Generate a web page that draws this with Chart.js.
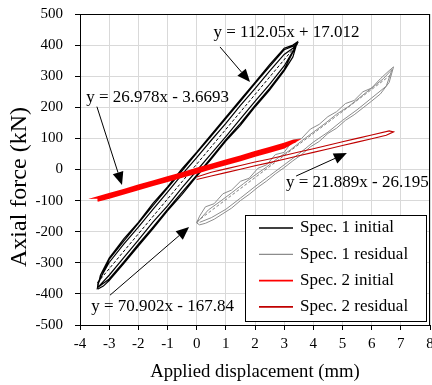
<!DOCTYPE html>
<html>
<head>
<meta charset="utf-8">
<script src="https://cdn.jsdelivr.net/npm/chart.js@4.4.0/dist/chart.umd.min.js"></script>
<style>
html, body { margin: 0; padding: 0; background: #fff; }
</style>
</head>
<body>
<canvas id="chart" width="432" height="385"></canvas>
<script>
// series names as in the legend
const seriesNames = ["Spec. 1 initial", "Spec. 1 residual", "Spec. 2 initial", "Spec. 2 residual"];
const seriesColors = ["#000000", "#8c8c8c", "#ff0000", "#c00000"];

// Spec. 1 initial: three cycles, up the lower branch then back down the upper one
const spec1InitialX = [
	-3.4, -3.2, -3, -2.5, -2, -1.5, -1, -0.5, 0, 0.5, 1, 1.5, 2, 2.5, 3, 3.3, 3.45,
	3.3, 3, 2.5, 2, 1.5, 1, 0.5, 0, -0.5, -1, -1.5, -2, -2.5, -3, -3.3, -3.4,
	-3.38, -3, -2.5, -2, -1.5, -1, -0.5, 0, 0.5, 1, 1.5, 2, 2.5, 3, 3.42,
	3.3, 3, 2.5, 2, 1.5, 1, 0.5, 0, -0.5, -1, -1.5, -2, -2.5, -3, -3.38,
	-3.4, -3, -2.5, -2, -1.5, -1, -0.5, 0, 0.5, 1, 1.5, 2, 2.5, 3, 3.45,
	3.35, 3, 2.5, 2, 1.5, 1, 0.5, 0, -0.5, -1, -1.5, -2, -2.5, -3, -3.4
];
const spec1InitialY = [
	-385, -375, -357, -303, -246, -191, -133, -80, -22, 33, 91, 142, 201, 255, 317, 362, 410,
	400, 390, 337, 280, 225, 168, 112, 56, 3, -56, -109, -170, -223, -285, -340, -380,
	-378, -340, -283, -227, -169, -117, -58, -4, 51, 106, 163, 219, 274, 333, 400,
	390, 370, 316, 260, 206, 148, 94, 38, -16, -73, -128, -185, -240, -299, -362,
	-380, -352, -297, -240, -185, -128, -73, -18, 38, 96, 148, 206, 261, 322, 405,
	398, 385, 331, 276, 219, 164, 107, 53, -4, -60, -116, -173, -230, -289, -372
];

// Spec. 1 residual: two cycles
const spec1ResidualX = [
	0, 0.1, 0.3, 0.6, 0.9, 1.2, 1.5, 1.8, 2.1, 2.4, 2.7, 3, 3.3, 3.6, 3.9, 4.2, 4.5, 4.8, 5.1, 5.4, 5.7, 6, 6.3, 6.6, 6.75,
	6.6, 6.3, 6, 5.7, 5.4, 5.1, 4.8, 4.5, 4.2, 3.9, 3.6, 3.3, 3, 2.7, 2.4, 2.1, 1.8, 1.5, 1.2, 0.9, 0.6, 0.3, 0.1, 0,
	0.4, 0.8, 1.2, 1.6, 2, 2.4, 2.8, 3.2, 3.6, 4, 4.4, 4.8, 5.2, 5.6, 6, 6.4, 6.7,
	6.5, 6, 5.5, 5, 4.5, 4, 3.5, 3, 2.5, 2, 1.5, 1, 0.5, 0.1
];
const spec1ResidualY = [
	-172, -150, -120, -110, -78, -66, -38, -28, 4, 15, 48, 55, 94, 100, 130, 145, 170, 186, 212, 222, 250, 262, 292, 318, 330,
	280, 243, 220, 198, 176, 158, 133, 116, 90, 73, 48, 28, 6, -14, -37, -57, -80, -100, -124, -142, -160, -173, -178, -172,
	-130, -103, -75, -46, -18, 8, 38, 62, 92, 120, 148, 178, 202, 232, 262, 292, 322,
	268, 230, 192, 158, 120, 88, 50, 15, -20, -55, -92, -128, -155, -170
];

// Spec. 2 initial: two cycles
const spec2InitialX = [
	-3.4, -3, -2.5, -2, -1.5, -1, -0.5, 0, 0.5, 1, 1.5, 2, 2.5, 3, 3.42,
	3.3, 3, 2.5, 2, 1.5, 1, 0.5, 0, -0.5, -1, -1.5, -2, -2.5, -3, -3.4,
	-3, -2.5, -2, -1.5, -1, -0.5, 0, 0.5, 1, 1.5, 2, 2.5, 3, 3.4,
	3, 2.5, 2, 1.5, 1, 0.5, 0, -0.5, -1, -1.5, -2, -2.5, -3, -3.4
];
const spec2InitialY = [
	-100, -91, -77, -63, -50, -37, -23, -10, 4, 17, 30, 44, 57, 71, 93,
	92, 83, 69, 56, 42, 29, 15, 2, -12, -25, -39, -52, -66, -79, -90,
	-88, -74, -60, -47, -34, -20, -7, 7, 20, 34, 47, 61, 74, 91,
	80, 67, 53, 40, 26, 13, -1, -14, -28, -41, -55, -68, -82, -95
];

// Spec. 2 residual: one narrow cycle
const spec2ResidualX = [
	0, 0.5, 1, 1.5, 2, 2.5, 3, 3.5, 4, 4.5, 5, 5.5, 6, 6.5, 6.75,
	6.6, 6, 5.5, 5, 4.5, 4, 3.5, 3, 2.5, 2, 1.5, 1, 0.5, 0
];
const spec2ResidualY = [
	-32, -21, -10, 1, 12, 22, 33, 44, 55, 66, 77, 88, 99, 110, 121,
	124, 111, 100, 89, 78, 67, 56, 45, 34, 24, 13, 2, -9, -24
];

// trend lines shown in the chart (black and grey dashed)
const fitSlope = [112.05, 70.902];
const fitIntercept = [17.012, -167.84];
const fitXStart = [-3.4, 0];
const fitXEnd = [3.45, 6.7];
const fitColors = ["#000000", "#7f7f7f"];

// equation labels and their arrows (data units)
const eqText = ["y = 112.05x + 17.012", "y = 26.978x - 3.6693", "y = 21.889x - 26.195", "y = 70.902x - 167.84"];
const eqX = [3.08, -1.34, 5.51, -1.17];
const eqY = [439, 233, -43, -442];
const arrowFromX = [0.80, -3.42, 3.41, -2.97];
const arrowFromY = [394, 202, -21, -404];
const arrowToX = [1.83, -2.56, 5.15, -0.26];
const arrowToY = [281, -50, 53, -185];

const serif = '"Liberation Serif", "Times New Roman", serif';
Chart.defaults.font.family = serif;
Chart.defaults.color = "#000";

const toPoints = (xs, ys) => xs.map((x, i) => ({ x: x, y: ys[i] }));

const fitSets = fitSlope.map((m, i) => ({
	label: "fit" + i,
	data: [
		{ x: fitXStart[i], y: m * fitXStart[i] + fitIntercept[i] },
		{ x: fitXEnd[i], y: m * fitXEnd[i] + fitIntercept[i] }
	],
	showLine: true,
	borderColor: fitColors[i],
	borderWidth: 1,
	borderDash: [3, 2],
	pointRadius: 0,
	order: i == 0 ? 2 : 4
}));

const datasets = [
	{ label: seriesNames[2], data: toPoints(spec2InitialX, spec2InitialY), borderColor: seriesColors[2], borderWidth: 2.2, order: 0 },
	{ label: seriesNames[3], data: toPoints(spec2ResidualX, spec2ResidualY), borderColor: seriesColors[3], borderWidth: 1.1, order: 1 },
	{ label: seriesNames[0], data: toPoints(spec1InitialX, spec1InitialY), borderColor: seriesColors[0], borderWidth: 1.2, order: 3 },
	{ label: seriesNames[1], data: toPoints(spec1ResidualX, spec1ResidualY), borderColor: seriesColors[1], borderWidth: 1, order: 5 }
].map(d => Object.assign(d, { showLine: true, pointRadius: 0, tension: 0 })).concat(fitSets);

function drawArrow(ctx, x1, y1, x2, y2) {
	const ang = Math.atan2(y2 - y1, x2 - x1);
	const len = 13, half = 5.5;
	const bx = x2 - len * Math.cos(ang), by = y2 - len * Math.sin(ang);
	ctx.beginPath();
	ctx.moveTo(x1, y1);
	ctx.lineTo(bx, by);
	ctx.stroke();
	ctx.beginPath();
	ctx.moveTo(x2, y2);
	ctx.lineTo(bx + half * Math.sin(ang), by - half * Math.cos(ang));
	ctx.lineTo(bx - half * Math.sin(ang), by + half * Math.cos(ang));
	ctx.closePath();
	ctx.fill();
}

const overlay = {
	id: "overlay",
	afterDatasetsDraw(chart) {
		const ctx = chart.ctx, xs = chart.scales.x, ys = chart.scales.y;
		ctx.save();
		ctx.strokeStyle = "#000";
		ctx.fillStyle = "#000";
		ctx.lineWidth = 1;
		for (let i = 0; i < eqText.length; i++) {
			drawArrow(ctx,
				xs.getPixelForValue(arrowFromX[i]), ys.getPixelForValue(arrowFromY[i]),
				xs.getPixelForValue(arrowToX[i]), ys.getPixelForValue(arrowToY[i]));
		}
		ctx.font = "17px " + serif;
		ctx.textAlign = "center";
		ctx.textBaseline = "middle";
		eqText.forEach((t, i) => {
			ctx.fillText(t, xs.getPixelForValue(eqX[i]), ys.getPixelForValue(eqY[i]));
		});
		ctx.restore();
	},
	afterDraw(chart) {
		const ctx = chart.ctx, area = chart.chartArea;
		ctx.save();
		// plot frame
		ctx.strokeStyle = "#000";
		ctx.lineWidth = 1;
		ctx.strokeRect(area.left + 0.5, area.top + 0.5, area.right - area.left - 1, area.bottom - area.top);

		// legend box
		const lx = area.right - 185, ly = area.bottom - 110;
		ctx.fillStyle = "#fff";
		ctx.fillRect(lx, ly, 181, 106);
		ctx.strokeRect(lx + 0.5, ly + 0.5, 181, 106);
		ctx.font = "17px " + serif;
		ctx.textBaseline = "middle";
		ctx.textAlign = "left";
		seriesNames.forEach((name, i) => {
			const y = ly + 13 + i * 26.3;
			ctx.strokeStyle = seriesColors[i];
			ctx.lineWidth = i == 1 ? 1.3 : 1.6;
			ctx.beginPath();
			ctx.moveTo(lx + 14, y);
			ctx.lineTo(lx + 48, y);
			ctx.stroke();
			ctx.fillStyle = "#000";
			ctx.fillText(name, lx + 55, y);
		});

		// y axis title
		ctx.translate(area.left - 60.5, 187);
		ctx.rotate(-Math.PI / 2);
		ctx.font = "24px " + serif;
		ctx.textAlign = "center";
		ctx.fillText("Axial force (kN)", 0, 0);
		ctx.restore();
	}
};

new Chart(document.getElementById("chart"), {
	type: "scatter",
	data: { datasets },
	options: {
		responsive: false,
		animation: false,
		layout: { padding: { top: 14, right: 2, left: 0, bottom: 0 } },
		plugins: { legend: { display: false }, tooltip: { enabled: false } },
		scales: {
			x: {
				type: "linear",
				min: -4,
				max: 8,
				ticks: { stepSize: 1, font: { size: 15 }, color: "#000", padding: 5 },
				grid: { color: "#d9d9d9", tickColor: "#000", tickLength: 5 },
				border: { color: "#000", width: 1 },
				title: { display: true, text: "Applied displacement (mm)", font: { size: 18.7 }, color: "#000", padding: { top: 0, bottom: 2 } },
				afterFit: (s) => { s.height = 60; s.paddingLeft = 0; s.paddingRight = 0; }
			},
			y: {
				type: "linear",
				min: -500,
				max: 500,
				ticks: { stepSize: 100, font: { size: 15 }, color: "#000", padding: 12 },
				grid: { color: "#d9d9d9", tickColor: "#000", tickLength: 5 },
				border: { color: "#000", width: 1 },
				afterFit: (s) => { s.width = 80; s.paddingTop = 0; s.paddingBottom = 0; }
			}
		}
	},
	plugins: [overlay]
});
</script>
</body>
</html>
